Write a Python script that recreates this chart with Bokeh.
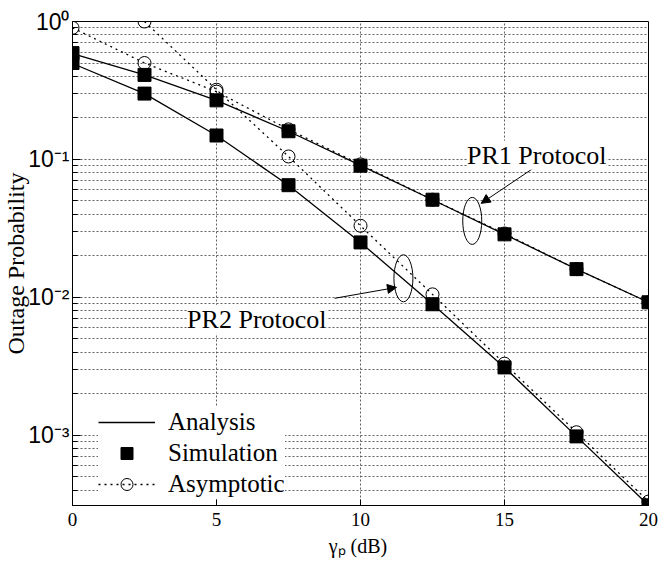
from bokeh.plotting import figure
from bokeh.models import Range1d, FixedTicker, Legend, LegendItem, Label, Arrow, NormalHead
from bokeh.embed import file_html
from bokeh.resources import INLINE

# ---------------- data ----------------
snr_db = [0, 2.5, 5, 7.5, 10, 12.5, 15, 17.5, 20]
pr1_analysis = [0.586, 0.41, 0.268, 0.160, 0.0905, 0.051, 0.0286, 0.016, 0.0092]
pr1_simulation = [0.59, 0.41, 0.268, 0.160, 0.090, 0.051, 0.0286, 0.016, 0.0092]
pr1_asymptotic = [0.90, 0.50, 0.31, 0.165, 0.092, 0.051, 0.029, 0.016, 0.0092]

pr2_analysis = [0.496, 0.30, 0.149, 0.065, 0.025, 0.0089, 0.0031, 0.00098, 0.00031]
pr2_simulation = [0.50, 0.30, 0.149, 0.065, 0.025, 0.0089, 0.0031, 0.00098, 0.00031]
snr_db_asym2 = [2.5, 5, 7.5, 10, 12.5, 15, 17.5, 20]
pr2_asymptotic = [1.0, 0.32, 0.105, 0.033, 0.0105, 0.0033, 0.00105, 0.00033]

x_ticks = [0, 5, 10, 15, 20]
y_ticks = [0.001, 0.01, 0.1, 1.0]
y_tick_labels = ["10⁻³", "10⁻²", "10⁻¹", "10⁰"]
y_minor = [m * 10.0 ** d for d in range(-4, 0) for m in range(2, 10)]

legend_labels = ["Analysis", "Simulation", "Asymptotic"]

# annotation anchors (data coords)
pr1_text = ("PR1 Protocol", 13.70, 0.107)
pr2_text = ("PR2 Protocol", 3.98, 0.00693)
pr1_ellipse = (13.88, 0.0358)
pr2_ellipse = (11.49, 0.01373)
pr1_arrow = (16.20, 0.092, 14.19, 0.048)
pr2_arrow = (9.10, 0.00983, 11.25, 0.0118)

SERIF = "Liberation Serif"
SANS = "Liberation Sans"

p = figure(frame_width=576, frame_height=484, y_axis_type="log",
           x_range=Range1d(0, 20), y_range=Range1d(10 ** -3.51, 1.0),
           output_backend="svg", toolbar_location=None,
           min_border_left=64, min_border_right=10, min_border_top=21, min_border_bottom=51)

p.outline_line_color = "black"
p.outline_line_width = 1
p.background_fill_color = "white"
p.border_fill_color = "white"

# axes
p.xaxis.ticker = FixedTicker(ticks=x_ticks)
p.yaxis.ticker = FixedTicker(ticks=y_ticks, minor_ticks=y_minor)
p.xgrid.ticker = FixedTicker(ticks=x_ticks)
p.ygrid.ticker = FixedTicker(ticks=y_ticks, minor_ticks=y_minor)
p.yaxis.major_label_overrides = {t: l for t, l in zip(y_ticks, y_tick_labels)}

for ax in (p.xaxis[0], p.yaxis[0]):
    ax.axis_line_color = "black"
    ax.major_tick_line_color = "black"
    ax.minor_tick_line_color = "black"
    ax.major_tick_out = 0
    ax.minor_tick_out = 0
    ax.axis_label_text_font = SERIF
    ax.axis_label_text_font_style = "normal"
    ax.axis_label_text_color = "black"
    ax.major_label_text_color = "black"

p.xaxis.major_tick_in = 6
p.xaxis.minor_tick_line_color = None
p.yaxis.major_tick_in = 8
p.yaxis.minor_tick_in = 5

p.xaxis.major_label_text_font = SERIF
p.xaxis.major_label_text_font_size = "19px"
p.xaxis.major_label_standoff = 7
p.xaxis.axis_label = "γₚ  (dB)"
p.xaxis.axis_label_text_font_size = "20px"
p.xaxis.axis_label_standoff = 6

p.yaxis.major_label_text_font = SANS
p.yaxis.major_label_text_font_size = "23px"
p.yaxis.major_label_standoff = 3
p.yaxis.axis_label = "Outage Probability"
p.yaxis.axis_label_text_font_size = "24px"
p.yaxis.axis_label_standoff = -4

# grid
for g in (p.xgrid[0], p.ygrid[0]):
    g.grid_line_color = "#606060"
    g.grid_line_dash = "2 2"
p.ygrid.minor_grid_line_color = "#606060"
p.ygrid.minor_grid_line_dash = "2 2"

# series
asym_dash = "2 4"
a1 = p.line(snr_db, pr1_asymptotic, line_color="black", line_width=1.3, line_dash=asym_dash)
c1 = p.scatter(snr_db, pr1_asymptotic, marker="circle", size=13, fill_color=None, line_color="black", line_width=1)
a2 = p.line(snr_db_asym2, pr2_asymptotic, line_color="black", line_width=1.3, line_dash=asym_dash)
c2 = p.scatter(snr_db_asym2, pr2_asymptotic, marker="circle", size=13, fill_color=None, line_color="black", line_width=1)

l1 = p.line(snr_db, pr1_analysis, line_color="black", line_width=1.3)
l2 = p.line(snr_db, pr2_analysis, line_color="black", line_width=1.3)
s1 = p.scatter(snr_db, pr1_simulation, marker="square", size=13, color="black")
s2 = p.scatter(snr_db, pr2_simulation, marker="square", size=13, color="black")

# annotations
for (cx, cy) in (pr1_ellipse, pr2_ellipse):
    p.ellipse(x=[cx], y=[cy], width=19, height=47, width_units="screen", height_units="screen",
              fill_color=None, line_color="black", line_width=1)

for (xs, ys, xe, ye) in (pr1_arrow, pr2_arrow):
    p.add_layout(Arrow(end=NormalHead(size=9, fill_color="black", line_color="black"),
                       x_start=xs, y_start=ys, x_end=xe, y_end=ye, line_width=1, line_color="black"))

for (txt, tx, ty) in (pr1_text, pr2_text):
    p.add_layout(Label(x=tx, y=ty, text=txt, text_font=SERIF, text_font_size="26px",
                       text_baseline="alphabetic", text_color="black",
                       background_fill_color="white", background_fill_alpha=1.0))

legend = Legend(items=[LegendItem(label=legend_labels[0], renderers=[l1]),
                       LegendItem(label=legend_labels[1], renderers=[s1]),
                       LegendItem(label=legend_labels[2], renderers=[a1, c1])],
                location=(26, 6), padding=6, spacing=1, margin=0,
                glyph_width=57, glyph_height=30, label_height=30, label_standoff=13,
                label_text_font=SERIF, label_text_font_size="25px", label_text_color="black",
                background_fill_color="white", background_fill_alpha=1.0,
                border_line_color=None)
p.add_layout(legend)

open("out.html", "w").write(file_html(p, INLINE))
